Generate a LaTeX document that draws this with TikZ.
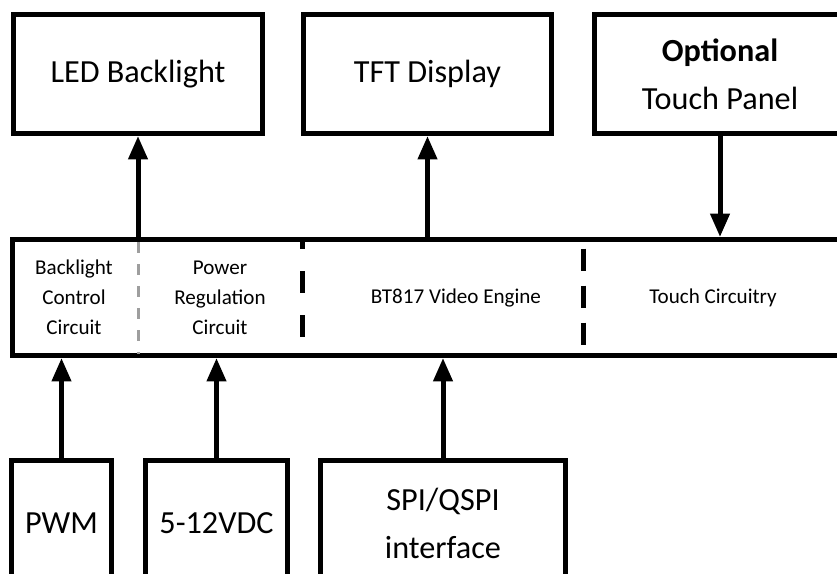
\documentclass[tikz,border=0pt]{standalone}
\usepackage{fontspec}
\setmainfont{Carlito}
\usepackage{tikz}
\usetikzlibrary{arrows.meta}

\tikzset{
	block/.style={draw, line width=0.15cm, align=center, inner sep=0pt},
	bigtext/.style={font=\fontsize{27.5}{41}\selectfont},
	smalltext/.style={font=\fontsize{18}{25.6}\selectfont},
	signal/.style={line width=0.15cm, -{Triangle[length=0.7cm, width=0.56cm]}},
	graydash/.style={line width=0.09cm, color=black!38, dash pattern=on 0.33cm off 0.33cm},
	blackdash/.style={line width=0.15cm, dash pattern=on 0.66cm off 0.66cm}
}

\begin{document}
\begin{tikzpicture}
		\useasboundingbox (0, 0) rectangle (25.11, -17.19);
		\clip (0, 0) rectangle (25.11, -17.19);
		% top row
		\node [block, bigtext, minimum width=7.47cm, minimum height=3.57cm] (led) at (4.14, -2.22) {LED Backlight};
		\node [block, bigtext, minimum width=7.44cm, minimum height=3.57cm] (tft) at (12.825, -2.22) {TFT Display};
		\node [block, bigtext, minimum width=7.53cm, minimum height=3.57cm] (touch) at (21.6, -2.22) {\textbf{Optional}\\Touch Panel};
		% controller bar
		\node [block, minimum width=25.2cm, minimum height=3.48cm] (bar) at (12.975, -8.925) {};
		\node [smalltext, align=center] (blctl) at (2.22, -8.925) {Backlight\\Control\\Circuit};
		\node [smalltext, align=center] (pwrreg) at (6.6, -8.925) {Power\\Regulation\\Circuit};
		\node [smalltext] (engine) at (13.68, -8.925) {BT817 Video Engine};
		\node [smalltext] (tchcirc) at (21.39, -8.925) {Touch Circuitry};
		\draw [graydash] (4.14, -7.26) -- (4.14, -10.62);
		\draw [blackdash, dash phase=0.45cm] (9.06, -7.26) -- (9.06, -10.62);
		\draw [blackdash, dash pattern=on 0.66cm off 0.45cm, dash phase=-0.2cm] (17.49, -7.26) -- (17.49, -10.62);
		% bottom row
		\node [block, bigtext, minimum width=3.0cm, minimum height=3.75cm] (pwm) at (1.845, -15.69) {PWM};
		\node [block, bigtext, minimum width=4.26cm, minimum height=3.75cm] (vdc) at (6.495, -15.69) {5-12VDC};
		\node [block, bigtext, minimum width=7.35cm, minimum height=3.75cm] (spi) at (13.29, -15.69) {SPI/QSPI\\interface};
		% signals
		\draw [signal] (led.south |- bar.north) -- (led.south);
		\draw [signal] (tft.south |- bar.north) -- (tft.south);
		\draw [signal] (touch.south) -- (touch.south |- bar.north);
		\draw [signal] (pwm.north) -- (pwm.north |- bar.south);
		\draw [signal] (vdc.north) -- (vdc.north |- bar.south);
		\draw [signal] (spi.north) -- (spi.north |- bar.south);
	\end{tikzpicture}
\end{document}
